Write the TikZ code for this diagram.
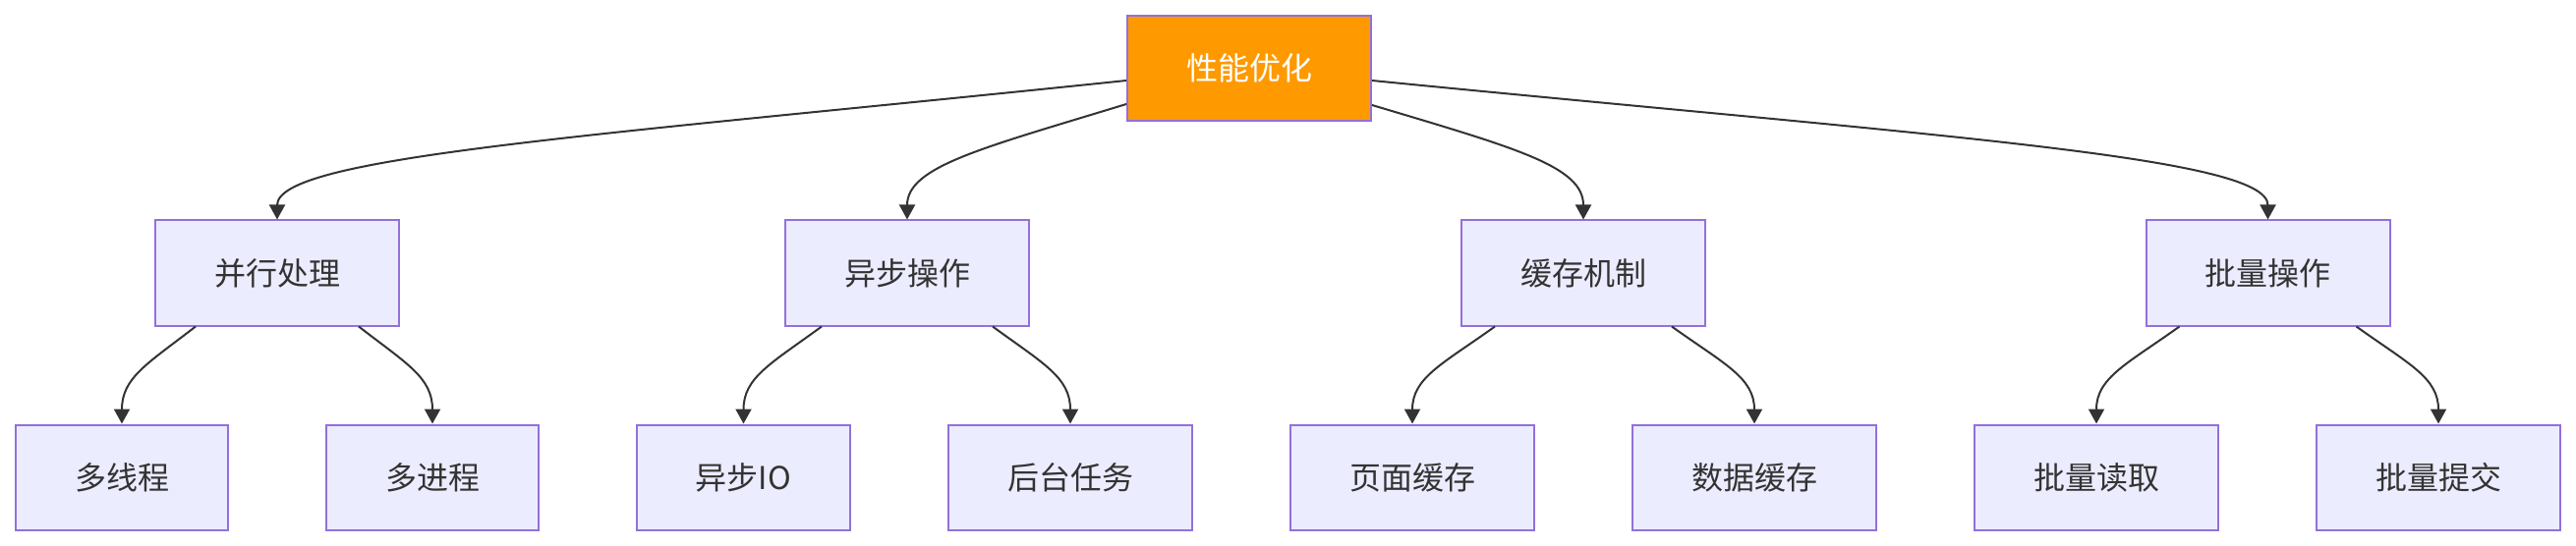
\documentclass[tikz,border=0pt]{standalone}
\usepackage{fontspec}
\newfontfamily\cjk{Noto Sans CJK SC}
\usetikzlibrary{arrows.meta,calc}
\definecolor{nodefill}{HTML}{ECECFF}
\definecolor{nodeborder}{HTML}{9370DB}
\definecolor{rootfill}{HTML}{FF9900}
\definecolor{textdark}{HTML}{333333}
\definecolor{edgecol}{HTML}{333333}
\tikzset{
  box/.style={rectangle, draw=nodeborder, fill=nodefill, line width=2pt,
    minimum height=107pt, inner sep=0pt, text=textdark,
    font=\cjk\fontsize{32}{38}\selectfont},
  rootbox/.style={box, fill=rootfill, text=white},
  wide/.style={minimum width=248pt},
  narrow/.style={minimum width=216pt},
  conn/.style={draw=edgecol, line width=2pt,
    -{Triangle[length=15pt,width=16pt]}}
}
\begin{document}
\begin{tikzpicture}[x=1pt,y=-1pt]
\useasboundingbox[fill=white] (0,0) rectangle (2621,556);
% root
\node[rootbox, wide] (root) at (1271,69.5) {性能优化};
% second row
\node[box, wide] (par) at (282,278) {并行处理};
\node[box, wide] (asy) at (923,278) {异步操作};
\node[box, wide] (cac) at (1611,278) {缓存机制};
\node[box, wide] (bat) at (2307.5,278) {批量操作};
% third row
\node[box, narrow] (mt) at (124,486) {多线程};
\node[box, narrow] (mp) at (440,486) {多进程};
\node[box, minimum width=217pt] (aio) at (756.5,486) {异步IO};
\node[box, wide] (bg) at (1089,486) {后台任务};
\node[box, wide] (pc) at (1437,486) {页面缓存};
\node[box, wide] (dc) at (1785,486) {数据缓存};
\node[box, wide] (br) at (2133,486) {批量读取};
\node[box, wide] (bc) at (2481,486) {批量提交};
% root edges
\draw[conn] ($(root.north west)+(0,67)$) .. controls ($(root.north west)+(-547,124)$) and ($(par.north)+(0,-64)$) .. (par.north);
\draw[conn] ($(root.north west)+(0,91)$) .. controls ($(root.north west)+(-147,136)$) and ($(asy.north)+(0,-54)$) .. (asy.north);
\draw[conn] ($(root.north east)+(0,92)$) .. controls ($(root.north east)+(147,136)$) and ($(cac.north)+(0,-54)$) .. (cac.north);
\draw[conn] ($(root.north east)+(0,67)$) .. controls ($(root.north east)+(577,124)$) and ($(bat.north)+(0,-64)$) .. (bat.north);
% child edges
\foreach \p/\l/\r/\o/\c in {par/mt/mp/83/132, asy/aio/bg/87/139, cac/pc/dc/90/143, bat/br/bc/90/143}{
  \draw[conn] ($(\p.south)+(-\o,0)$) .. controls ($(\p.south)+(-\c,38)$) and ($(\l.north)+(0,-47)$) .. (\l.north);
  \draw[conn] ($(\p.south)+(\o,0)$) .. controls ($(\p.south)+(\c,38)$) and ($(\r.north)+(0,-47)$) .. (\r.north);
}
\end{tikzpicture}
\end{document}
